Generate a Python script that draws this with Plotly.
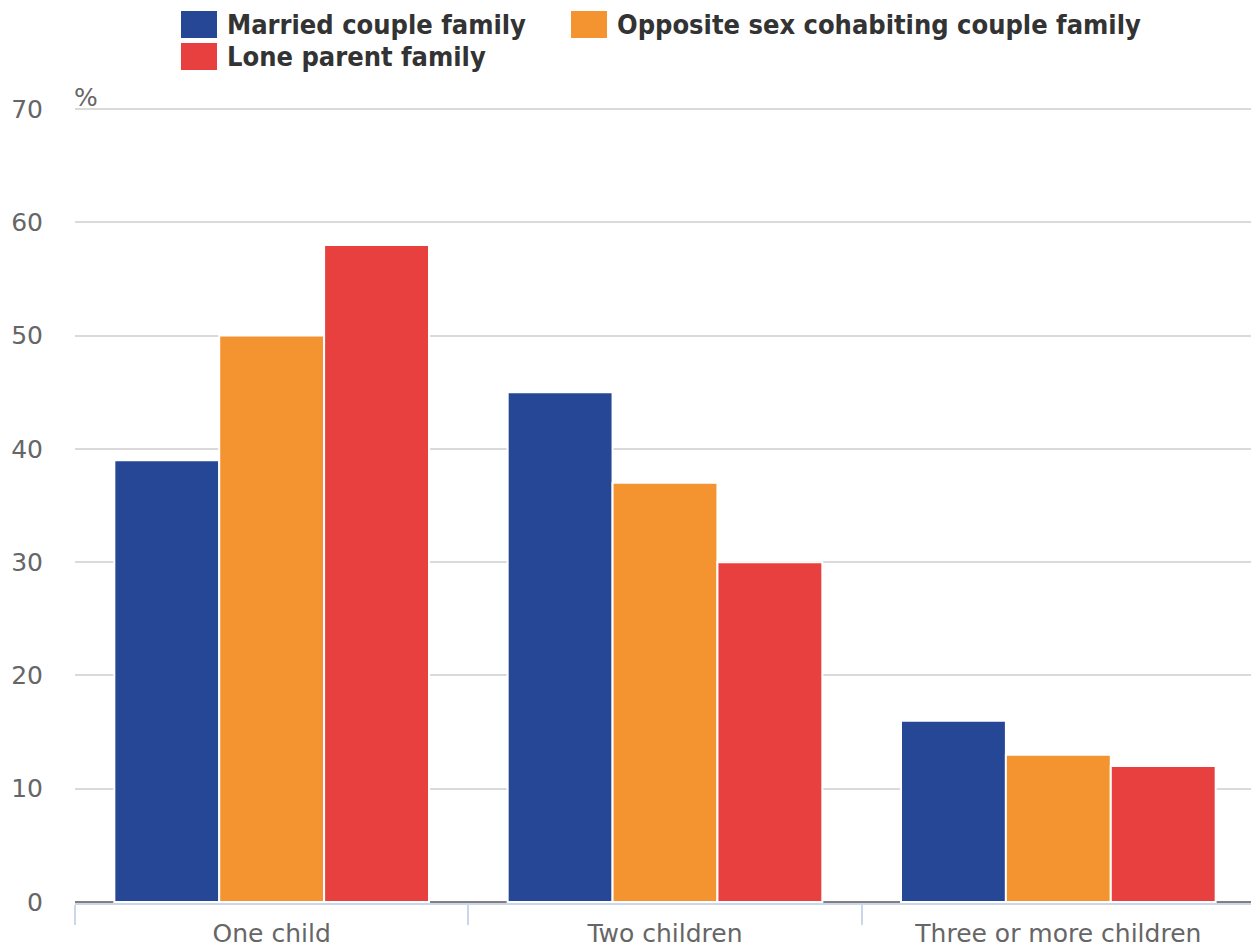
import plotly.graph_objects as go

categories = ["One child", "Two children", "Three or more children"]
series_names = ["Married couple family", "Opposite sex cohabiting couple family", "Lone parent family"]
married = [39, 45, 16]
cohabiting = [50, 37, 13]
lone_parent = [58, 30, 12]
colors = ["#264796", "#f49431", "#e83f3f"]
y_ticks = [0, 10, 20, 30, 40, 50, 60, 70]

FONT = "DejaVu Sans"
FIG_W, FIG_H = 1255, 947
L, R, T, B = 75, 0, 103, 947 - 903
PW, PH = FIG_W - L - R, FIG_H - T - B
px_per_unit = (902 - 109) / 70.0
y_lo = -1 / px_per_unit
y_hi = 70 + 6 / px_per_unit

fig = go.Figure()
for name, vals, col in zip(series_names, [married, cohabiting, lone_parent], colors):
    fig.add_trace(go.Bar(
        x=categories, y=vals, name=name,
        marker=dict(color=col, line=dict(color="white", width=2)),
        showlegend=False,
    ))


def paper_x(page_x):
    return (page_x - L) / PW


def paper_y(page_y):
    return (FIG_H - page_y - B) / PH


# custom legend (large swatches)
for name, col, (sx, row) in zip(series_names, colors, [(181, 0), (571, 0), (181, 1)]):
    top = 11 + row * 32
    bot = top + 27
    fig.add_shape(type="rect", xref="paper", yref="paper",
                  x0=paper_x(sx), x1=paper_x(sx + 36),
                  y0=paper_y(bot), y1=paper_y(top),
                  fillcolor=col, line=dict(width=0), layer="above")
    fig.add_annotation(xref="paper", yref="paper",
                       x=paper_x(sx + 44), y=paper_y((top + bot) / 2),
                       xanchor="left", yanchor="middle", showarrow=False,
                       text="<b>" + name + "</b>",
                       font=dict(family="DejaVu Sans Condensed, " + FONT, size=27, color="#333333"))

fig.add_annotation(xref="paper", yref="paper", x=0, y=paper_y(108), xanchor="left", yanchor="bottom",
                   showarrow=False, text="%", font=dict(family=FONT, size=25, color="#666666"),
                   xshift=-3, yshift=-6)

fig.update_layout(
    width=FIG_W, height=FIG_H,
    margin=dict(l=L, r=R, t=T, b=B, autoexpand=False),
    paper_bgcolor="white", plot_bgcolor="white",
    barmode="group", bargap=0.2, bargroupgap=0.0,
    font=dict(family=FONT, size=25, color="#666666"),
    xaxis=dict(
        type="category", tickson="boundaries", ticks="outside", ticklen=20,
        tickcolor="#ccd6eb", tickwidth=2, showline=True, linecolor="#ccd6eb", linewidth=2,
        showgrid=False, tickfont=dict(size=25, color="#666666"), automargin=False,
        ticklabelstandoff=7,
    ),
    yaxis=dict(
        range=[y_lo, y_hi], tickvals=y_ticks, showgrid=True, gridcolor="#dadada", gridwidth=2,
        zeroline=True, zerolinecolor="#808080", zerolinewidth=2, ticks="",
        ticklabelstandoff=31, tickfont=dict(size=25, color="#666666"), automargin=False,
    ),
)

fig.write_html(
    "out.html",
    config={"displayModeBar": False},
    post_script="document.body.style.margin='0px';"
                "document.documentElement.style.overflow='hidden';"
                "document.body.style.overflow='hidden';",
)
